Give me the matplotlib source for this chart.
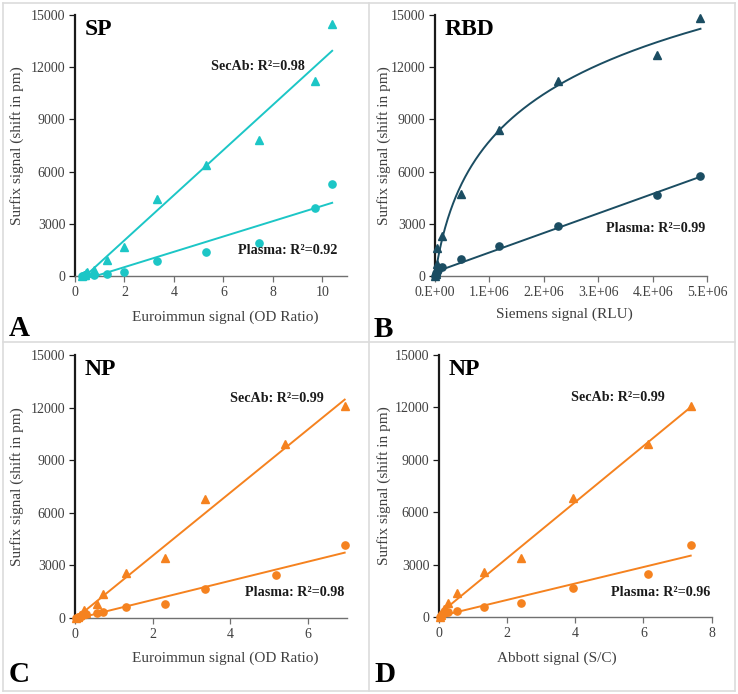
import numpy as np
import matplotlib
matplotlib.use("Agg")
import matplotlib.pyplot as plt
from matplotlib.lines import Line2D

plt.rcParams['font.family'] = ['Liberation Serif', 'DejaVu Serif']

# ---------------- data ----------------
# Panel A: SP vs Euroimmun
sp_x_sec = [0.30, 0.35, 0.40, 0.45, 0.50, 0.78, 1.30, 2.00, 3.30, 5.30, 7.45, 9.70, 10.40]
sp_y_sec = [0, 30, 80, 150, 220, 350, 900, 1650, 4450, 6400, 7800, 11200, 14500]
sp_x_pl = [0.30, 0.35, 0.40, 0.45, 0.78, 1.30, 2.00, 3.30, 5.30, 7.45, 9.70, 10.40]
sp_y_pl = [0, 20, 40, 60, 70, 110, 250, 880, 1400, 1900, 3900, 5300]

# Panel B: RBD vs Siemens
rbd_x_sec = [3e3, 1e4, 2e4, 3e4, 4e4, 1.3e5, 4.7e5, 1.17e6, 2.27e6, 4.09e6, 4.88e6]
rbd_y_sec = [0, 100, 300, 700, 1600, 2300, 4700, 8400, 11200, 12700, 14800]
rbd_x_pl = [3e3, 1e4, 2e4, 3e4, 6e4, 1.3e5, 4.7e5, 1.17e6, 2.27e6, 4.09e6, 4.88e6]
rbd_y_pl = [0, 50, 150, 250, 350, 500, 1000, 1700, 2850, 4650, 5750]

# Panel C: NP vs Euroimmun
npe_x_sec = [0.03, 0.08, 0.12, 0.18, 0.22, 0.28, 0.57, 0.72, 1.32, 2.31, 3.34, 5.41, 6.94]
npe_y_sec = [0, 60, 150, 250, 450, 300, 800, 1350, 2550, 3400, 6800, 9900, 12100]
npe_x_pl = [0.03, 0.08, 0.12, 0.18, 0.28, 0.57, 0.72, 1.32, 2.31, 3.34, 5.18, 6.94]
npe_y_pl = [0, 30, 80, 150, 250, 300, 350, 600, 800, 1650, 2450, 4150]

# Panel D: NP vs Abbott
npa_x_sec = [0.02, 0.05, 0.10, 0.15, 0.20, 0.27, 0.54, 1.32, 2.41, 3.94, 6.14, 7.41]
npa_y_sec = [0, 100, 300, 450, 350, 800, 1400, 2550, 3400, 6800, 9900, 12100]
npa_x_pl = [0.02, 0.05, 0.10, 0.15, 0.20, 0.27, 0.54, 1.32, 2.41, 3.94, 6.14, 7.39]
npa_y_pl = [0, 50, 150, 250, 300, 300, 350, 600, 800, 1650, 2450, 4150]

y_ticks = [0, 3000, 6000, 9000, 12000, 15000]
titles = ["SP", "RBD", "NP", "NP"]
panel_letters = ["A", "B", "C", "D"]
x_labels = ["Euroimmun signal (OD Ratio)", "Siemens signal (RLU)",
            "Euroimmun signal (OD Ratio)", "Abbott signal (S/C)"]
y_label = "Surfix signal (shift in pm)"
sec_labels = ["SecAb: R\u00b2=0.98", None, "SecAb: R\u00b2=0.99", "SecAb: R\u00b2=0.99"]
pl_labels = ["Plasma: R\u00b2=0.92", "Plasma: R\u00b2=0.99", "Plasma: R\u00b2=0.98", "Plasma: R\u00b2=0.96"]

CYAN = "#1cc6c6"
TEAL = "#1b4d62"
ORANGE = "#f5821f"
TXT = "#404040"

W, H = 738, 694
fig = plt.figure(figsize=(W / 100, H / 100), dpi=100)


def ax_at(l, r, t, b):
    return fig.add_axes([l / W, 1 - b / H, (r - l) / W, (b - t) / H])


boxes = [(75, 347, 15, 276), (435, 707, 15, 276), (75, 347, 355, 618), (439, 711.5, 355, 617)]
axes = [ax_at(*b) for b in boxes]
xlims = [(0, 11), (0, 5e6), (0, 7), (0, 8)]
xticks = [[0, 2, 4, 6, 8, 10], [0, 1e6, 2e6, 3e6, 4e6, 5e6], [0, 2, 4, 6], [0, 2, 4, 6, 8]]
colors = [CYAN, TEAL, ORANGE, ORANGE]
datasets = [(sp_x_sec, sp_y_sec, sp_x_pl, sp_y_pl),
            (rbd_x_sec, rbd_y_sec, rbd_x_pl, rbd_y_pl),
            (npe_x_sec, npe_y_sec, npe_x_pl, npe_y_pl),
            (npa_x_sec, npa_y_sec, npa_x_pl, npa_y_pl)]
# label centres (pixel)
xlab_cx = [225, 564, 225, 557]
xlab_cy = [317, 314, 658, 658]
ylab_cx = [17, 384, 17, 384]


def linfit_line(ax, x, y, c):
    x = np.asarray(x, float); y = np.asarray(y, float)
    m, b = np.polyfit(x, y, 1)
    xs = np.linspace(x.min(), x.max(), 50)
    ax.plot(xs, m * xs + b, color=c, lw=1.4, zorder=2)


def logsat_line(ax, x, y, c):
    # y = a * ln(1 + x/K), least squares over K grid
    x = np.asarray(x, float); y = np.asarray(y, float)
    best = None
    for K in np.linspace(5e4, 2e6, 3000):
        f = np.log1p(x / K)
        a = (f @ y) / (f @ f)
        err = np.sum((a * f - y) ** 2)
        if best is None or err < best[0]:
            best = (err, K, a)
    _, K, a = best
    xs = np.linspace(x.min(), x.max(), 400)
    ax.plot(xs, a * np.log1p(xs / K), color=c, lw=1.4, zorder=2)


for i, ax in enumerate(axes):
    xs_s, ys_s, xs_p, ys_p = datasets[i]
    c = colors[i]
    ax.plot(xs_s, ys_s, linestyle='none', marker='^', ms=6.2, color=c, zorder=3, clip_on=False)
    ax.plot(xs_p, ys_p, linestyle='none', marker='o', ms=5.2, color=c, zorder=3, clip_on=False)
    if i == 1:
        logsat_line(ax, xs_s, ys_s, c)
    else:
        linfit_line(ax, xs_s, ys_s, c)
    linfit_line(ax, xs_p, ys_p, c)
    ax.set_xlim(*xlims[i])
    ax.set_ylim(0, 15000)
    ax.set_yticks(y_ticks)
    ax.set_xticks(xticks[i])
    if i == 1:
        ax.set_xticklabels(["0.E+00", "1.E+06", "2.E+06", "3.E+06", "4.E+06", "5.E+06"])
    for s in ("top", "right"):
        ax.spines[s].set_visible(False)
    ax.spines["left"].set_color("#1a1a1a")
    ax.spines["left"].set_linewidth(1.6)
    ax.spines["bottom"].set_color("#707070")
    ax.spines["bottom"].set_linewidth(1.0)
    ax.tick_params(axis='both', labelsize=10, colors=TXT, length=4, width=0.9, pad=3)
    ax.tick_params(axis='y', color="#1a1a1a")
    ax.tick_params(axis='x', color="#707070")
    ax.patch.set_alpha(0)
    ax.text(0.035, 0.985, titles[i], transform=ax.transAxes, fontsize=17,
            fontweight='bold', color='black', va='top', ha='left')
    b = boxes[i]
    fig.text(xlab_cx[i] / W, 1 - xlab_cy[i] / H, x_labels[i], fontsize=11, color=TXT,
             ha='center', va='center')
    fig.text(ylab_cx[i] / W, 1 - ((b[2] + b[3]) / 2) / H, y_label, fontsize=11, color=TXT,
             ha='center', va='center', rotation=90)


def ftext(x, y, s, **kw):
    fig.text(x / W, 1 - y / H, s, **kw)


ann = dict(fontsize=10.2, fontweight='bold', color='#1a1a1a', va='center', ha='left')
ftext(211, 67, sec_labels[0], **ann)
ftext(238, 250, pl_labels[0], **ann)
ftext(606, 229, pl_labels[1], **ann)
ftext(230, 399, sec_labels[2], **ann)
ftext(245, 593, pl_labels[2], **ann)
ftext(571, 397, sec_labels[3], **ann)
ftext(611, 592, pl_labels[3], **ann)

letter = dict(fontsize=21, fontweight='bold', color='black', va='bottom', ha='left')
ftext(9, 342, panel_letters[0], **letter)
ftext(374, 343, panel_letters[1], **letter)
ftext(9, 688, panel_letters[2], **letter)
ftext(374, 688, panel_letters[3], **letter)

# panel frames
GR = "#dcdcdc"
for (x0, y0, x1, y1) in [(3, 3, 735, 3), (3, 691, 735, 691), (3, 3, 3, 691), (735, 3, 735, 691),
                         (3, 342, 735, 342), (369, 3, 369, 691)]:
    fig.add_artist(Line2D([x0 / W, x1 / W], [1 - y0 / H, 1 - y1 / H], color=GR, lw=1.2))

fig.savefig("out.png", dpi=100)
